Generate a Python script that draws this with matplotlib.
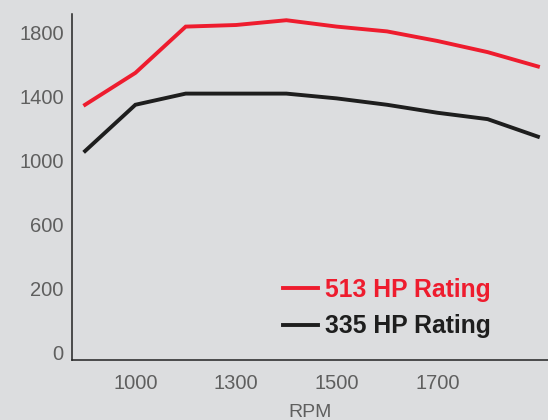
import matplotlib
matplotlib.use("Agg")
import matplotlib.pyplot as plt

# torque curves (lb-ft vs RPM)
rpm = [900, 1000, 1100, 1200, 1300, 1400, 1500, 1600, 1700, 1800]
torque_513 = [1350, 1550, 1840, 1850, 1880, 1840, 1810, 1750, 1680, 1590]
torque_335 = [1060, 1350, 1420, 1420, 1420, 1390, 1350, 1300, 1260, 1150]

# the source chart labels its ticks unevenly; keep its labels as printed
x_ticks = [1000, 1200, 1400, 1600]
x_tick_labels = ["1000", "1300", "1500", "1700"]
y_ticks = [-200, 200, 600, 1000, 1400, 1800]
y_tick_labels = ["0", "200", "600", "1000", "1400", "1800"]

BG = "#dcdddf"
RED = "#ee1c2e"
BLACK = "#1e1e1e"
GREY = "#5f5f5f"

plt.rcParams["font.family"] = ["Liberation Sans", "DejaVu Sans"]

fig = plt.figure(figsize=(5.48, 4.2), dpi=100)
fig.patch.set_facecolor(BG)
ax = fig.add_axes([72 / 548, 60 / 420, 1 - 72 / 548, (360 - 14) / 420])
ax.set_facecolor(BG)

ax.plot(rpm, torque_513, color=RED, lw=2.8, solid_joinstyle="miter", label="513 HP Rating")
ax.plot(rpm, torque_335, color=BLACK, lw=2.8, solid_joinstyle="miter", label="335 HP Rating")

ax.set_xlim(874, 1820)
ax.set_ylim(-250, 1919)
ax.set_xticks(x_ticks, x_tick_labels)
ax.set_yticks(y_ticks, y_tick_labels)
ax.tick_params(length=0, labelsize=14.5, colors=GREY)
ax.tick_params(axis="y", pad=6)
ax.tick_params(axis="x", pad=10)
ax.set_xlabel("RPM", fontsize=14, color=GREY, labelpad=8)

for side in ("top", "right"):
    ax.spines[side].set_visible(False)
for side in ("left", "bottom"):
    ax.spines[side].set_color("#222222")
    ax.spines[side].set_linewidth(1.1)

leg = ax.legend(loc="upper left", bbox_to_anchor=(283 / 548, 1 - 278 / 420),
                bbox_transform=fig.transFigure, frameon=False, borderpad=0,
                borderaxespad=0, handlelength=1.4, handletextpad=0.3,
                labelspacing=0.5, prop={"size": 17.8, "weight": "bold"})
for txt, col in zip(leg.get_texts(), (RED, BLACK)):
    txt.set_color(col)

fig.savefig("out.png", dpi=100, facecolor=fig.get_facecolor())
